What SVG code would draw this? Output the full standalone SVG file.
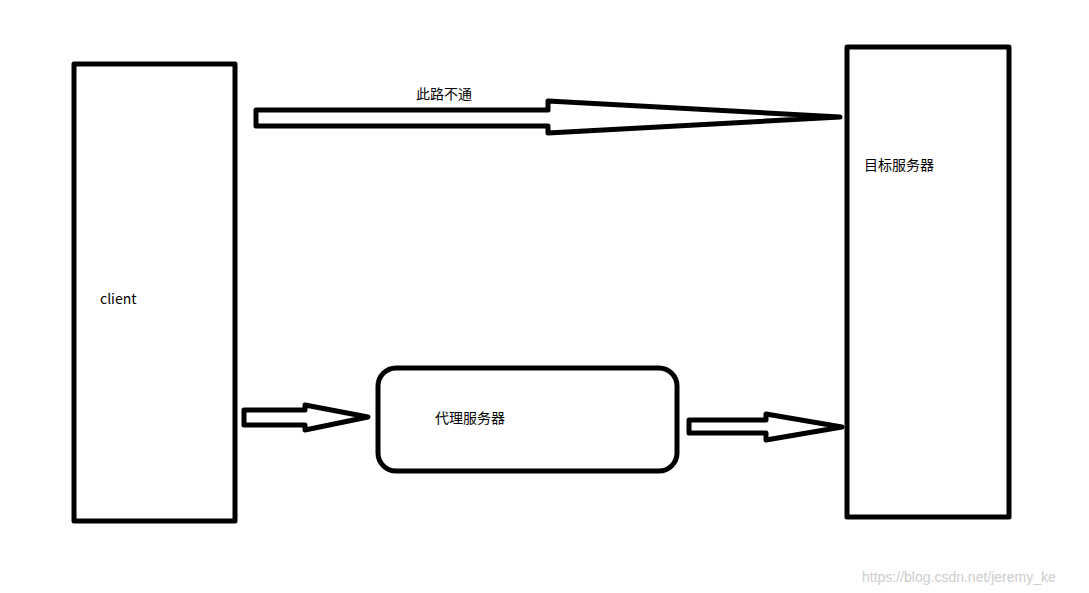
<svg xmlns="http://www.w3.org/2000/svg" width="1089" height="593" viewBox="0 0 1089 593">
<style>
.b{fill:#fff;stroke:#000;stroke-width:5;stroke-linejoin:round}
.t{font-family:"Microsoft YaHei","Noto Sans CJK SC",sans-serif;font-size:14px;fill:#000}
</style>
<rect width="1089" height="593" fill="#fff"/>
<g id="client"><rect class="b" x="74" y="64" width="161" height="457"/><text class="t" x="100" y="304">client</text></g>
<g id="target"><rect class="b" x="847" y="47" width="162" height="470"/><text class="t" x="864" y="170">目标服务器</text></g>
<g id="proxy"><rect class="b" x="378" y="368" width="299" height="103" rx="18"/><text class="t" x="435" y="423">代理服务器</text></g>
<g id="connectors">
<polygon class="b" points="256,110 548,110 548,101 840,117 548,133 548,126 256,126"/>
<text class="t" x="416" y="99">此路不通</text>
<polygon class="b" points="244,410 305,410 305,405 368,417 305,430 305,425 244,425"/>
<polygon class="b" points="689,420 766,420 766,414 842,427 766,440 766,433 689,433"/>
</g>
<text x="862" y="582" style="font-family:'Liberation Sans',sans-serif;font-size:14px;fill:#ccc">https://blog.csdn.net/jeremy_ke</text>
</svg>
